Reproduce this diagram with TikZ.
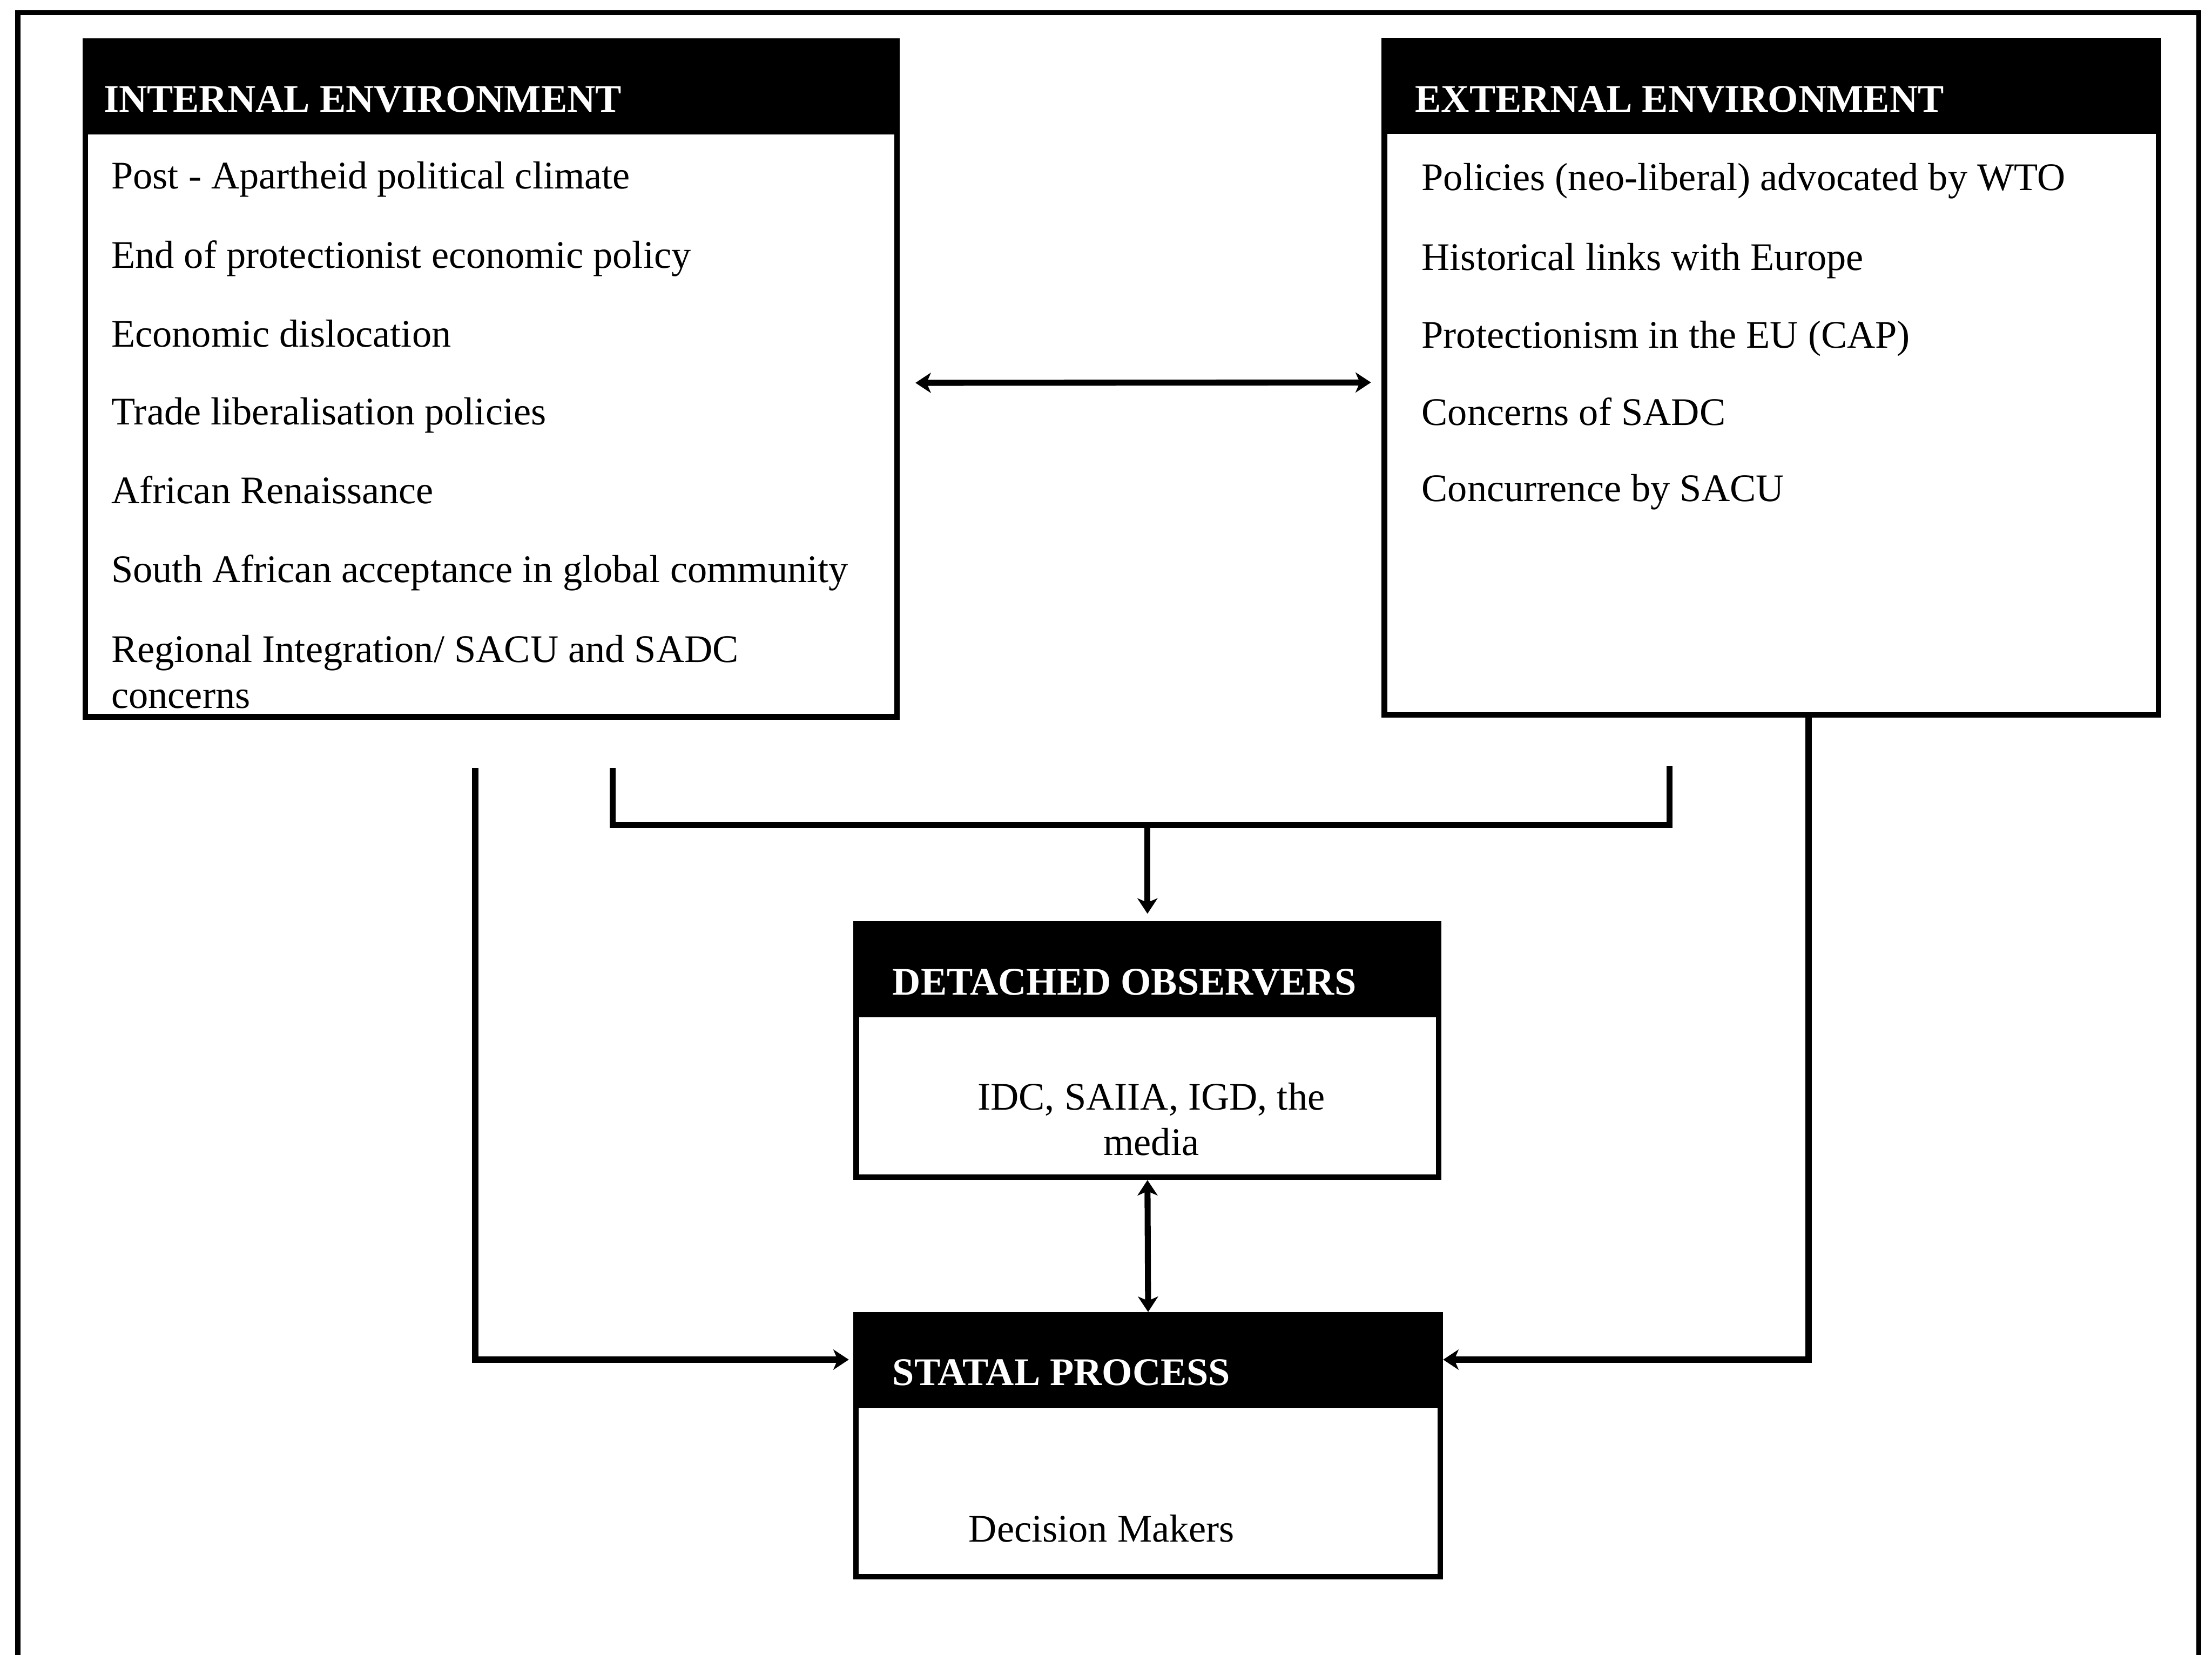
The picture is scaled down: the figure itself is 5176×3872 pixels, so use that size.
\documentclass[tikz,border=0pt]{standalone}
\usepackage{fontspec}
\setmainfont{Liberation Serif}
\usetikzlibrary{arrows.meta}
\begin{document}
\begin{tikzpicture}[x=0.01cm, y=-0.01cm,
  box/.style={draw=black, line width=0.13cm, fill=white, inner sep=0pt},
  hdr/.style={draw=black, fill=black, line width=0.13cm, inner sep=0pt,
              minimum height=2.12cm, anchor=north},
  htext/.style={anchor=base west, inner sep=0pt, text=white,
                font=\fontsize{26}{31.5}\selectfont\bfseries},
  item/.style={anchor=base west, inner sep=0pt,
               font=\fontsize{26}{31.5}\selectfont},
  citem/.style={item, anchor=base},
  conn/.style={line width=0.14cm, line cap=butt, line join=miter},
  arr/.tip={Stealth[length=0.36cm, width=0.47cm, inset=0.1cm]},
]
\useasboundingbox (0,0) rectangle (5176,3872);

% outer frame (open at the bottom)
\draw[line width=0.12cm] (42,3950) -- (42,30) -- (5145,30) -- (5145,3950);

% ---- boxes ----
\node[box, minimum width=18.98cm, minimum height=15.80cm] (int)  at (1149,887) {};
\node[box, minimum width=18.10cm, minimum height=15.78cm] (ext)  at (4145,884) {};
\node[box, minimum width=13.62cm, minimum height=5.93cm]  (det)  at (2685,2458.5) {};
\node[box, minimum width=13.67cm, minimum height=6.13cm]  (stat) at (2686.5,3383.5) {};

% black title bars
\node[hdr, minimum width=18.98cm] (inth)  at (int.north)  {};
\node[hdr, minimum width=18.10cm] (exth)  at (ext.north)  {};
\node[hdr, minimum width=13.62cm] (deth)  at (det.north)  {};
\node[hdr, minimum width=13.67cm] (stath) at (stat.north) {};

% titles
\node[htext] (intt)  at (242,262)   {INTERNAL ENVIRONMENT};
\node[htext] (extt)  at (3311,262)  {EXTERNAL ENVIRONMENT};
\node[htext] (dett)  at (2088,2328) {DETACHED OBSERVERS};
\node[htext] (statt) at (2088,3242) {STATAL PROCESS};

% internal environment
\node[item] (i1) at (260,442)  {Post - Apartheid political climate};
\node[item] (i2) at (260,627)  {End of protectionist economic policy};
\node[item] (i3) at (260,812)  {Economic dislocation};
\node[item] (i4) at (260,994)  {Trade liberalisation policies};
\node[item] (i5) at (260,1178) {African Renaissance};
\node[item] (i6) at (260,1363) {South African acceptance in global community};
\node[item] (i7) at (260,1550) {Regional Integration/ SACU and SADC};
\node[item] (i8) at (260,1657) {concerns};

% external environment
\node[item] (e1) at (3326,446)  {Policies (neo-liberal) advocated by WTO};
\node[item] (e2) at (3326,633)  {Historical links with Europe};
\node[item] (e3) at (3326,814)  {Protectionism in the EU (CAP)};
\node[item] (e4) at (3326,995)  {Concerns of SADC};
\node[item] (e5) at (3326,1173) {Concurrence by SACU};

% detached observers and statal process
\node[citem] (d1) at (2694,2597) {IDC, SAIIA, IGD, the};
\node[citem] (d2) at (2694,2703) {media};
\node[item]  (s1) at (2266,3608) {Decision Makers};

% ---- connectors ----
\coordinate (lt) at (1112,1797);
\coordinate (bl) at (1434,1797);
\coordinate (br) at (3907,1793);
\coordinate (by) at (0,1930);
\coordinate (rx) at (4232,0);

% internal <-> external
\draw[conn, arr-arr, shorten <=0.37cm, shorten >=0.25cm]
  ([yshift=-0.09cm]int.east) -- ([yshift=-0.11cm]ext.west);

% both environments feed the observers
\draw[conn] (bl) -- (bl |- by) -- (br |- by) -- (br);
\draw[conn, -arr, shorten >=0.17cm] (det.north |- by) -- (det.north);

% observers <-> statal process
\draw[conn, arr-arr] (det.south) -- (stat.north);

% direct links into the statal process
\draw[conn, -arr, shorten >=0.1cm] (lt) |- ([yshift=2.015cm]stat.west);
\draw[conn, -arr] (ext.south -| rx) |- ([yshift=2.015cm]stat.east);

\end{tikzpicture}
\end{document}
